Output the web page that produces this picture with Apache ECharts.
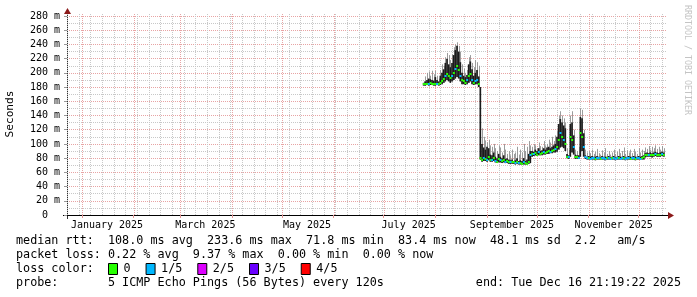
<!DOCTYPE html>
<html><head><meta charset="utf-8">
<script src="https://cdn.jsdelivr.net/npm/echarts@6/dist/echarts.min.js"></script>
<style>html,body{margin:0;padding:0;background:#fff}#c{width:697px;height:297px}</style>
</head><body><div id="c"></div>
<script>
// ---------- axis extents / ticks ----------
const axisStartDate = '2024-12-23';
const axisEndDate = '2025-12-18';
const monthStartDates = ['2025-01-01','2025-02-01','2025-03-01','2025-04-01','2025-05-01','2025-06-01',
  '2025-07-01','2025-08-01','2025-09-01','2025-10-01','2025-11-01','2025-12-01'];
const monthLabelDates = ['2025-01-16','2025-03-16','2025-05-16','2025-07-16','2025-09-16','2025-11-16'];
const monthLabelTexts = ['January 2025','March 2025','May 2025','July 2025','September 2025','November 2025'];
const yMin = 0, yMax = 280, yStep = 20;

// ---------- samples: one per day starting firstSampleDate ----------
const firstSampleDate = '2025-07-25';
const sampleStepDays = 1;
// median rtt (ms)
const medianMs = [
  184,184,185,184,186,185,184,184,185,184, 186,188,192,195,198,196,193,195,200,205,
  210,204,196,190,188,186,190,196,198,190, 186,188,190,184,80,
  78,80,79,78,82,78,77,80,76,75, 79,77,76,78,75,76,74,75,74,74, 73,74,73,73,72,74,73,72,75,
  84,86,86,87,85,88,86,87,88,87, 89,90,89,90,92,93,95,105,115,110, 105,100,82,81,110,105,95,82,81,80, 115,110,95,
  81,80,80,79,80,80,79,80,80,79, 80,80,79,80,80,79,80,80,79,80, 80,79,80,80,79,80,80,79,80,80, 79,80,80,79,80,81,
  84,85,84,85,84,85,86,85,84,85,86,85
];
// bottom of smoke (ms)
const lowMs = [
  182,182,183,182,183,183,182,182,183,182, 183,184,186,188,190,188,186,188,190,192,
  194,192,188,184,184,183,184,186,188,184, 183,184,184,180,78,
  75,76,76,75,77,75,75,76,74,73, 74,74,73,74,73,73,72,72,72,72, 71,72,71,71,71,71,71,71,72,
  73,82,83,84,83,84,84,84,85,85, 86,86,87,87,88,88,89,92,95,96, 94,90,80,79,82,88,85,79,79,79, 82,90,82,
  79,78,78,78,78,78,77,78,78,78, 78,78,77,78,78,78,78,78,77,78, 78,78,78,78,77,78,78,78,78,78, 77,78,78,78,78,78,
  81,82,82,82,81,82,83,82,82,82,83,82
];
// top of dense (dark) smoke (ms)
const darkTopMs = [
  186,188,190,192,191,190,189,194,190,188, 196,200,205,214,220,212,208,214,225,232,
  238,230,215,200,196,194,197,212,216,205, 196,200,204,195,180,
  100,95,92,96,94,85,84,88,82,80, 86,82,80,84,79,80,78,77,78,76, 77,80,76,77,76,80,76,78,86,
  90,90,89,92,90,94,90,91,94,92, 95,96,94,96,98,100,110,128,135,130, 126,122,86,84,128,130,112,85,84,84, 138,136,115,
  84,82,83,82,83,82,82,83,82,81, 83,82,82,82,83,81,82,83,81,82, 83,82,82,83,81,82,83,82,82,83, 82,82,83,82,83,84,
  87,88,87,88,87,88,89,88,87,88,89,88
];
// top of light smoke / max ping (ms)
const smokeTopMs = [
  188,195,200,202,196,203,198,203,196,192, 204,212,210,222,228,225,218,226,236,240,
  243,238,230,212,206,200,204,222,225,214, 208,218,215,210,180,
  122,110,105,102,106,98,96,100,94,90, 98,95,88,100,92,86,90,84,92,86, 88,96,85,92,88,100,90,96,104,
  98,96,100,98,94,102,97,96,104,98, 100,106,102,110,104,112,118,140,146,140, 136,130,94,92,140,146,120,92,90,96, 150,148,120,
  92,88,90,87,92,86,89,93,87,85, 91,88,94,86,90,85,88,92,86,89, 93,87,90,95,86,91,88,92,87,93, 89,86,94,88,92,90,
  95,93,97,92,96,94,98,93,96,92,97,94
];
// lost pings out of 5
const lossCount = [
  0,0,0,1,0,0,0,0,1,0, 0,0,0,1,0,0,0,1,0,1, 0,0,1,0,0,0,1,0,0,1, 0,1,1,0,0,
  0,1,0,1,0,0,1,0,1,0, 0,1,0,0,1,0,0,1,0,0, 1,0,1,0,0,1,0,0,0,
  1,0,1,0,0,1,0,0,1,0, 0,0,1,0,0,1,0,0,1,0, 1,0,0,1,0,0,1,0,0,1, 0,0,1,
  1,1,0,1,1,1,0,1,1,0, 1,1,1,0,1,1,0,1,1,1, 0,1,1,0,1,1,1,0,1,1, 0,1,1,1,0,0,
  0,0,1,0,0,0,1,0,0,0,1,0
];
const lossNames = ['0','1/5','2/5','3/5','4/5'];
const lossColors = ['#26ff00','#00b8ff','#dd00ff','#6a00ff','#ff0000'];

// ---------- texts ----------
const yTitle = 'Seconds';
const watermark = 'RRDTOOL / TOBI OETIKER';
const legendRow1 = 'median rtt:  108.0 ms avg  233.6 ms max  71.8 ms min  83.4 ms now  48.1 ms sd  2.2   am/s';
const legendRow2 = 'packet loss: 0.22 % avg  9.37 % max  0.00 % min  0.00 % now';
const legendRow3 = 'loss color:';
const legendRow4 = 'probe:       5 ICMP Echo Pings (56 Bytes) every 120s';
const endText = 'end: Tue Dec 16 21:19:22 2025';

// ---------- build ----------
const DAY = 86400000;
const ts = s => new Date(s + 'T00:00:00Z').getTime();
const xMin = ts(axisStartDate), xMax = ts(axisEndDate);
const t0 = ts(firstSampleDate);
const sampleTs = medianMs.map((_, i) => t0 + i * sampleStepDays * DAY);
const monthTs = monthStartDates.map(ts);
const labelTs = monthLabelDates.map(ts);
const weekTs = [];
for (let t = xMin; t <= xMax; t += 7 * DAY) weekTs.push(t);

const FONT = 'DejaVu Sans Mono';
const MAJOR = '#e8a4a4', MINOR = '#c8c8c8', ARROW = '#8b1a1a';

function vLine(color) {
  return function (params, api) {
    const t = api.value(0);
    const a = api.coord([t, yMin]), b = api.coord([t, yMax]);
    const x = Math.round(a[0]) + 0.5;
    return { type: 'line', silent: true,
      shape: { x1: x, y1: a[1], x2: x, y2: b[1] - 2 },
      style: { stroke: color, lineWidth: 1, lineDash: [1, 1] } };
  };
}
function renderSmoke(params, api) {
  const t = api.value(0);
  const pLo = api.coord([t, api.value(1)]);
  const pD = api.coord([t, api.value(2)]);
  const pT = api.coord([t, api.value(3)]);
  const w = api.size([sampleStepDays * DAY, 0])[0];
  const xl = Math.round(pLo[0]) + 0.5;
  return { type: 'group', children: [
    { type: 'line', shape: { x1: xl, y1: pLo[1], x2: xl, y2: pT[1] }, style: { stroke: '#9c9c9c', lineWidth: 1 } },
    { type: 'rect', shape: { x: pLo[0] - w / 2, y: pD[1], width: w, height: Math.max(1, pLo[1] - pD[1]) }, style: { fill: '#1b1b1b' } }
  ]};
}
function renderMedian(color) {
  return function (params, api) {
    const c = api.coord([api.value(0), api.value(1)]);
    const w = api.size([sampleStepDays * DAY, 0])[0];
    return { type: 'rect', shape: { x: c[0] - w / 2, y: Math.round(c[1]) - 1, width: w + 0.3, height: 2 }, style: { fill: color } };
  };
}

const series = [
  { name: 'weekGrid', type: 'custom', z: 1, silent: true, renderItem: vLine(MINOR),
    data: weekTs.map(t => [t, 0]), encode: { x: 0, y: 1 } },
  { name: 'monthGrid', type: 'custom', z: 1, silent: true, renderItem: vLine(MAJOR),
    data: monthTs.map(t => [t, 0]), encode: { x: 0, y: 1 } },
  { name: 'smoke', type: 'custom', z: 2, renderItem: renderSmoke,
    data: sampleTs.map((t, i) => [t, lowMs[i], darkTopMs[i], smokeTopMs[i]]), encode: { x: 0, y: [1, 2, 3] } }
];
lossNames.forEach((n, k) => {
  series.push({ name: n, type: 'custom', z: 3, renderItem: renderMedian(lossColors[k]),
    itemStyle: { color: lossColors[k] },
    data: sampleTs.map((t, i) => [t, medianMs[i], lossCount[i]]).filter(d => d[2] === k),
    encode: { x: 0, y: 1 } });
});

const txt = (x, y, text, extra, rot) => ({ type: 'text', x, y, rotation: rot || 0, silent: true,
  style: Object.assign({ text, fontFamily: FONT, fontSize: 11.75, fill: '#000', textAlign: 'left', textVerticalAlign: 'middle' }, extra || {}) });

const chart = echarts.init(document.getElementById('c'), null, { renderer: 'canvas' });
chart.setOption({
  animation: false,
  backgroundColor: '#fff',
  grid: { left: 67, right: 30, top: 16, bottom: 82, containLabel: false },
  xAxis: {
    type: 'value', min: xMin, max: xMax,
    axisLine: { show: true, lineStyle: { color: '#000', width: 1 } },
    axisTick: { show: true, customValues: monthTs, length: 3, lineStyle: { color: '#e49696' } },
    splitLine: { show: false },
    axisLabel: { customValues: labelTs, margin: 5, fontFamily: FONT, fontSize: 10, color: '#000',
      formatter: v => { let bi = 0; labelTs.forEach((t, i) => { if (Math.abs(t - v) < Math.abs(labelTs[bi] - v)) bi = i; }); return monthLabelTexts[bi]; } }
  },
  yAxis: {
    type: 'value', min: yMin, max: yMax, interval: yStep,
    axisLine: { show: true, onZero: false, lineStyle: { color: '#333', width: 1 } },
    axisTick: { show: true, length: 3, lineStyle: { color: '#999' } },
    splitLine: { show: true, lineStyle: { color: MAJOR, width: 1, type: [1, 1] } },
    minorTick: { show: false, splitNumber: 2 },
    minorSplitLine: { show: true, lineStyle: { color: MINOR, width: 1, type: [1, 1] } },
    axisLabel: { margin: 7, fontFamily: FONT, fontSize: 10, color: '#000',
      formatter: v => v === 0 ? '0  ' : v + ' m' }
  },
  legend: {
    data: lossNames.map(n => ({ name: n, icon: 'rect' })),
    left: 108, top: 263, padding: 0, itemWidth: 9, itemHeight: 11, itemGap: 15, selectedMode: false,
    textStyle: { fontFamily: FONT, fontSize: 11.75, color: '#000', padding: [0, 0, 0, 1] },
    itemStyle: { borderColor: '#000', borderWidth: 1 }
  },
  graphic: [
    { type: 'line', silent: true, shape: { x1: 67.5, y1: 16, x2: 67.5, y2: 11 }, style: { stroke: '#333', lineWidth: 1 } },
    { type: 'line', silent: true, shape: { x1: 67.5, y1: 215, x2: 67.5, y2: 219 }, style: { stroke: '#333', lineWidth: 1 } },
    { type: 'line', silent: true, shape: { x1: 63, y1: 215.5, x2: 67, y2: 215.5 }, style: { stroke: '#000', lineWidth: 1 } },
    { type: 'line', silent: true, shape: { x1: 667, y1: 215.5, x2: 669, y2: 215.5 }, style: { stroke: '#000', lineWidth: 1 } },
    { type: 'polygon', silent: true, shape: { points: [[668, 212], [674, 215.5], [668, 219]] }, style: { fill: ARROW } },
    { type: 'polygon', silent: true, shape: { points: [[64, 14], [67.5, 8], [71, 14]] }, style: { fill: ARROW } },
    txt(10, 114, yTitle, { fontSize: 11.2, textAlign: 'center', textVerticalAlign: 'middle' }, Math.PI / 2),
    txt(16, 241, legendRow1),
    txt(16, 255, legendRow2),
    txt(16, 269, legendRow3),
    txt(16, 283, legendRow4),
    txt(681, 283, endText, { textAlign: 'right' }),
    txt(687, 5, watermark, { fontSize: 8.3, fill: '#c4c4c4' }, -Math.PI / 2)
  ],
  series
});
</script>
</body></html>
